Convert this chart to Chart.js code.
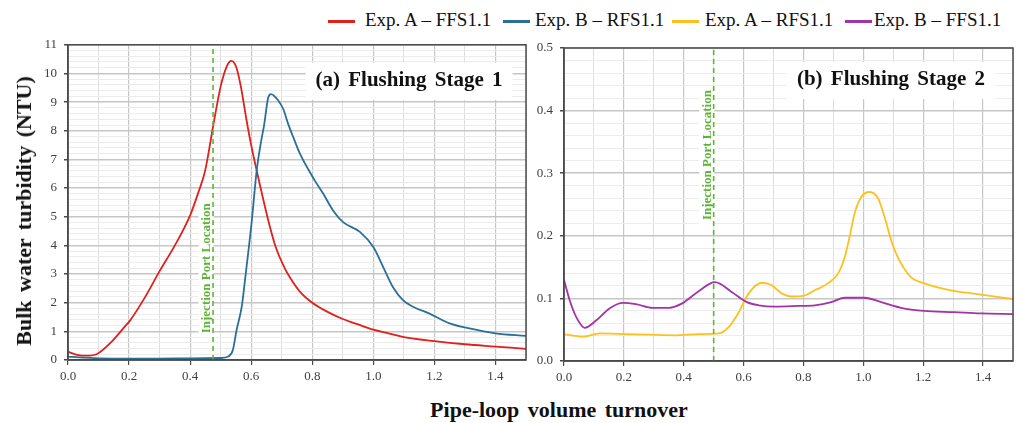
<!DOCTYPE html>
<html>
<head>
<meta charset="utf-8">
<script src="https://cdn.jsdelivr.net/npm/chart.js@4.4.1/dist/chart.umd.min.js"></script>
<style>
  body { margin: 0; width: 1017px; height: 423px; background: #fff; position: relative; overflow: hidden; font-family: "Liberation Serif", serif; color: #111; }
  .box { position: absolute; }
  .leg-line { position: absolute; height: 2.5px; width: 27px; top: 20px; }
  .leg-text { position: absolute; top: 9px; font-size: 19px; white-space: nowrap; color: #111; }
  #yTitle { position: absolute; left: 24px; top: 211px; transform: translate(-50%, -50%) rotate(-90deg); font-weight: bold; font-size: 22px; white-space: nowrap; word-spacing: 3px; }
  #xTitle { position: absolute; left: 559px; top: 410px; transform: translate(-50%, -50%); font-weight: bold; font-size: 22px; white-space: nowrap; word-spacing: 3px; }
</style>
</head>
<body>

<div id="legend"></div>
<div class="box" style="left:30px;top:30px;width:500px;height:360px"><canvas id="stage1"></canvas></div>
<div class="box" style="left:530px;top:30px;width:487px;height:361px"><canvas id="stage2"></canvas></div>
<div id="yTitle">Bulk water turbidity (NTU)</div>
<div id="xTitle">Pipe-loop volume turnover</div>

<script>
// ---- data ----
// (a) Flushing Stage 1
const ffsA_x = [0, 0.03, 0.06, 0.095, 0.144, 0.193, 0.2, 0.25, 0.3, 0.35, 0.4, 0.427, 0.449, 0.476, 0.5, 0.52, 0.535, 0.55, 0.565, 0.585, 0.6, 0.618, 0.656, 0.68, 0.71, 0.727, 0.76, 0.8, 0.85, 0.9, 0.95, 1.0, 1.05, 1.1, 1.2, 1.3, 1.4, 1.5];
const ffsA_y = [0.29, 0.18, 0.15, 0.21, 0.65, 1.25, 1.33, 2.15, 3.1, 4.0, 5.05, 5.85, 6.6, 8.2, 9.55, 10.25, 10.44, 10.25, 9.6, 8.35, 7.5, 6.61, 4.87, 3.95, 3.2, 2.88, 2.38, 2.0, 1.68, 1.43, 1.24, 1.06, 0.93, 0.8, 0.66, 0.55, 0.47, 0.39];

const rfsB_x = [0, 0.05, 0.1, 0.2, 0.3, 0.4, 0.5, 0.525, 0.54, 0.552, 0.569, 0.582, 0.601, 0.618, 0.631, 0.642, 0.656, 0.665, 0.689, 0.705, 0.721, 0.738, 0.76, 0.808, 0.836, 0.868, 0.901, 0.956, 1.0, 1.032, 1.064, 1.097, 1.13, 1.184, 1.25, 1.315, 1.4, 1.5];
const rfsB_y = [0.12, 0.08, 0.06, 0.05, 0.05, 0.06, 0.07, 0.12, 0.35, 1.04, 1.86, 3.0, 4.76, 6.61, 7.54, 8.18, 9.17, 9.28, 9.05, 8.76, 8.24, 7.77, 7.19, 6.27, 5.8, 5.22, 4.81, 4.47, 3.94, 3.25, 2.55, 2.09, 1.86, 1.62, 1.28, 1.1, 0.93, 0.84];

// (b) Flushing Stage 2
const rfsA_x = [0, 0.063, 0.119, 0.207, 0.285, 0.373, 0.451, 0.517, 0.55, 0.584, 0.617, 0.661, 0.694, 0.727, 0.761, 0.8, 0.838, 0.882, 0.916, 0.938, 0.954, 0.971, 0.993, 1.021, 1.049, 1.071, 1.093, 1.115, 1.159, 1.204, 1.292, 1.381, 1.5];
const rfsA_y = [0.043, 0.039, 0.044, 0.043, 0.042, 0.041, 0.043, 0.044, 0.054, 0.078, 0.108, 0.125, 0.121, 0.108, 0.103, 0.104, 0.113, 0.124, 0.14, 0.166, 0.198, 0.236, 0.262, 0.27, 0.26, 0.23, 0.193, 0.166, 0.134, 0.124, 0.113, 0.107, 0.099];

const ffsB_x = [0, 0.019, 0.041, 0.069, 0.108, 0.152, 0.196, 0.24, 0.296, 0.351, 0.395, 0.451, 0.504, 0.561, 0.611, 0.65, 0.705, 0.783, 0.838, 0.893, 0.938, 1.004, 1.06, 1.126, 1.204, 1.303, 1.392, 1.5];
const ffsB_y = [0.13, 0.097, 0.07, 0.053, 0.065, 0.084, 0.093, 0.091, 0.085, 0.085, 0.092, 0.112, 0.126, 0.11, 0.094, 0.089, 0.087, 0.088, 0.089, 0.094, 0.101, 0.101, 0.094, 0.085, 0.08, 0.078, 0.076, 0.075];

// injection port positions (pipe-loop volume turnover)
const injection1 = 0.475;
const injection2 = 0.5;

const legendItems = [
    { label: "Exp. A \u2013 FFS1.1", color: "#e0201c", line: 328, text: 365 },
    { label: "Exp. B \u2013 RFS1.1", color: "#2b6f98", line: 503, text: 535 },
    { label: "Exp. A \u2013 RFS1.1", color: "#ffc01e", line: 672, text: 705 },
    { label: "Exp. B \u2013 FFS1.1", color: "#a233a8", line: 845, text: 874 }
];

const GREEN = "#5db537";
const FONT = "Liberation Serif";

// legend (shared by both panels)
const legend = document.getElementById("legend");
legendItems.forEach(item => {
    const l = document.createElement("div");
    l.className = "leg-line";
    l.style.left = item.line + "px";
    l.style.background = item.color;
    legend.appendChild(l);
    const t = document.createElement("div");
    t.className = "leg-text";
    t.style.left = item.text + "px";
    t.textContent = item.label;
    legend.appendChild(t);
});

function toPoints(xs, ys) {
    return xs.map((x, i) => ({ x: x, y: ys[i] }));
}

function isMultiple(v, step) {
    const r = v / step;
    return Math.abs(r - Math.round(r)) < 1e-6;
}

// frame, panel title and injection label
const panelDecor = {
    id: "panelDecor",
    beforeDatasetsDraw(chart, args, opts) {
        const { ctx, chartArea } = chart;
        const xs = chart.scales.x;
        ctx.save();

        // injection label
        const lx = xs.getPixelForValue(opts.injection) - 6.5;
        const ly = chartArea.top + opts.labelPos * chartArea.height;
        ctx.font = "bold 13px " + FONT;
        const w = ctx.measureText("Injection Port Location").width;
        ctx.translate(lx, ly);
        ctx.rotate(-Math.PI / 2);
        ctx.fillStyle = "#fff";
        ctx.fillRect(-w / 2 - 4, -8, w + 8, 15);
        ctx.fillStyle = GREEN;
        ctx.textAlign = "center";
        ctx.textBaseline = "middle";
        ctx.fillText("Injection Port Location", 0, 0);
        ctx.setTransform(1, 0, 0, 1, 0, 0);
        ctx.restore();

        // panel title
        ctx.save();
        ctx.font = "bold 21px " + FONT;
        ctx.wordSpacing = "3px";
        const tw = ctx.measureText(opts.title).width;
        const cx = chartArea.right - opts.titleRight;
        const cy = chartArea.top + opts.titleTop;
        ctx.fillStyle = "#fff";
        ctx.fillRect(cx - tw / 2 - 10, cy - 18, tw + 20, 37);
        ctx.fillStyle = "#111";
        ctx.textAlign = "center";
        ctx.textBaseline = "middle";
        ctx.fillText(opts.title, cx, cy);
        ctx.restore();
    },
    afterDraw(chart) {
        const { ctx, chartArea } = chart;
        ctx.save();
        ctx.strokeStyle = "#4a4a4a";
        ctx.lineWidth = 1.5;
        ctx.strokeRect(chartArea.left, chartArea.top, chartArea.right - chartArea.left, chartArea.bottom - chartArea.top);
        ctx.restore();
    }
};

function series(points, color) {
    return {
        data: points,
        borderColor: color,
        borderWidth: 1.8,
        pointRadius: 0,
        tension: 0.4,
        cubicInterpolationMode: "monotone",
        fill: false
    };
}

function makeChart(id, datasets, cfg) {
    return new Chart(document.getElementById(id), {
        type: "line",
        data: { datasets: datasets },
        options: {
            responsive: true,
            maintainAspectRatio: false,
            animation: false,
            layout: { padding: cfg.padding },
            plugins: {
                legend: { display: false },
                tooltip: { enabled: false },
                panelDecor: cfg.decor
            },
            scales: {
                x: {
                    type: "linear",
                    min: 0, max: 1.5,
                    afterFit: s => { s.height = 30; },
                    ticks: {
                        stepSize: 0.1,
                        maxTicksLimit: 100,
                        autoSkip: false,
                        maxRotation: 0,
                        padding: 4,
                        color: "#404040",
                        font: { family: FONT, size: 13 },
                        callback: v => (isMultiple(v, 0.2) && v < 1.45) ? v.toFixed(1) : ""
                    },
                    grid: {
                        color: c => isMultiple(c.tick.value, 0.2) ? "#c6c6c6" : "#dedede",
                        lineWidth: c => isMultiple(c.tick.value, 0.2) ? 1.2 : 1,
                        tickLength: 5,
                        tickColor: c => isMultiple(c.tick.value, 0.2) ? "#4a4a4a" : "rgba(0,0,0,0)"
                    },
                    border: { display: true, color: "#4a4a4a", width: 1.5 }
                },
                y: {
                    min: 0, max: cfg.yMax,
                    afterFit: s => { s.width = cfg.yWidth; },
                    ticks: {
                        stepSize: cfg.yMinor,
                        maxTicksLimit: 100,
                        autoSkip: false,
                        padding: 7,
                        color: "#404040",
                        font: { family: FONT, size: 13 },
                        callback: v => isMultiple(v, cfg.yMajor) ? v.toFixed(cfg.yDigits) : ""
                    },
                    grid: {
                        color: c => isMultiple(c.tick.value, cfg.yMajor) ? "#c6c6c6" : "#ececec",
                        lineWidth: c => isMultiple(c.tick.value, cfg.yMajor) ? 1.5 : 1,
                        tickLength: 4,
                        tickColor: c => isMultiple(c.tick.value, cfg.yMajor) ? "#4a4a4a" : "rgba(0,0,0,0)"
                    },
                    border: { display: true, color: "#4a4a4a", width: 1.5 }
                }
            }
        },
        plugins: [panelDecor]
    });
}

function injectionLine(x, yMax) {
    return {
        data: [{ x: x, y: 0 }, { x: x, y: yMax }],
        borderColor: GREEN,
        borderWidth: 1.6,
        borderDash: [5, 4],
        pointRadius: 0
    };
}

makeChart("stage1", [
    injectionLine(injection1, 11),
    series(toPoints(rfsB_x, rfsB_y), legendItems[1].color),
    series(toPoints(ffsA_x, ffsA_y), legendItems[0].color)
], {
    padding: { left: 0, top: 14, right: 3, bottom: 0 },
    yMax: 11, yMinor: 0.2, yMajor: 1, yDigits: 0, yWidth: 38,
    decor: { injection: injection1, labelPos: 0.709, title: "(a) Flushing Stage 1", titleRight: 117, titleTop: 36 }
});

makeChart("stage2", [
    injectionLine(injection2, 0.5),
    series(toPoints(ffsB_x, ffsB_y), legendItems[3].color),
    series(toPoints(rfsA_x, rfsA_y), legendItems[2].color)
], {
    padding: { left: 0, top: 18, right: 1, bottom: 0 },
    yMax: 0.5, yMinor: 0.02, yMajor: 0.1, yDigits: 1, yWidth: 34,
    decor: { injection: injection2, labelPos: 0.342, title: "(b) Flushing Stage 2", titleRight: 122, titleTop: 32 }
});
</script>
</body>
</html>
